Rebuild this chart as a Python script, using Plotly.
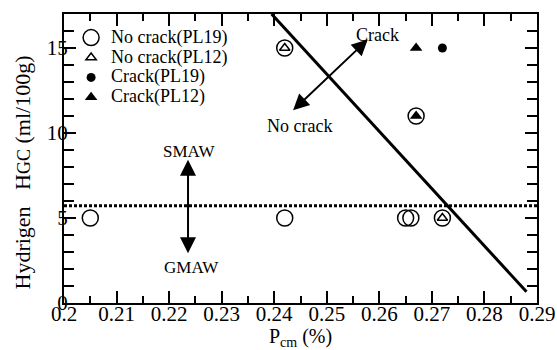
import plotly.graph_objects as go

# Data
nc19_x = [0.205, 0.242, 0.242, 0.265, 0.266, 0.267, 0.272]
nc19_y = [5, 15, 5, 5, 5, 11, 5]
nc12_x = [0.242, 0.272]
nc12_y = [15, 5]
c19_x = [0.272]
c19_y = [15]
c12_x = [0.267, 0.267]
c12_y = [15, 11]

crit_x = [0.2395, 0.288]
crit_y = [17.0, 0.66]
h_level = 5.72

x_ticks = [0.2, 0.21, 0.22, 0.23, 0.24, 0.25, 0.26, 0.27, 0.28, 0.29]
x_tick_text = ["0.2", "0.21", "0.22", "0.23", "0.24", "0.25", "0.26", "0.27", "0.28", "0.29"]
y_ticks = [0, 5, 10, 15]

FONT = "Liberation Serif, Times New Roman, serif"


def legname(s):
    return "<span style='font-size:18px'>" + s + "</span>"


fig = go.Figure()

fig.add_trace(go.Scatter(x=crit_x, y=crit_y, mode="lines",
                         line=dict(color="black", width=3), showlegend=False))
fig.add_trace(go.Scatter(x=[0.2, 0.29], y=[h_level, h_level], mode="lines",
                         line=dict(color="black", width=3, dash="3px,2px"), showlegend=False))

fig.add_trace(go.Scatter(x=nc19_x, y=nc19_y, mode="markers", name=legname("No crack(PL19)"),
                         marker=dict(symbol="circle-open", size=16, color="black",
                                     line=dict(width=1.5, color="black"))))
fig.add_trace(go.Scatter(x=nc12_x, y=nc12_y, mode="markers", name=legname("No crack(PL12)"),
                         marker=dict(symbol="triangle-up-open", size=9, color="black",
                                     line=dict(width=1.5, color="black"))))
fig.add_trace(go.Scatter(x=c19_x, y=c19_y, mode="markers", name=legname("Crack(PL19)"),
                         marker=dict(symbol="circle", size=9, color="black")))
fig.add_trace(go.Scatter(x=c12_x, y=c12_y, mode="markers", name=legname("Crack(PL12)"),
                         marker=dict(symbol="triangle-up", size=11, color="black")))

ytitle = "Hydrigen\u00a0\u00a0\u00a0H<span style='font-size:18px'>GC</span> (ml/100g)"

annotations = [
    dict(x=0.2578, y=15.5, ax=0.2433, ay=11.25, axref="x", ayref="y", xref="x", yref="y",
         text="", showarrow=True, arrowhead=2, startarrowhead=2, arrowside="end+start",
         arrowwidth=2, arrowsize=1.6, startarrowsize=1.6, arrowcolor="black"),
    dict(x=0.2236, y=8.43, ax=0.2236, ay=2.84, axref="x", ayref="y", xref="x", yref="y",
         text="", showarrow=True, arrowhead=2, startarrowhead=2, arrowside="end+start",
         arrowwidth=2, arrowsize=1.6, startarrowsize=1.6, arrowcolor="black"),
    dict(x=0.2597, y=15.75, xref="x", yref="y", text="Crack", showarrow=False,
         font=dict(family=FONT, size=18, color="black")),
    dict(x=0.2449, y=10.4, xref="x", yref="y", text="No crack", showarrow=False,
         font=dict(family=FONT, size=18, color="black")),
    dict(x=0.2237, y=8.9, xref="x", yref="y", text="SMAW", showarrow=False,
         font=dict(family=FONT, size=17, color="black")),
    dict(x=0.2242, y=2.1, xref="x", yref="y", text="GMAW", showarrow=False,
         font=dict(family=FONT, size=17, color="black")),
    dict(x=-0.0877, y=0.45, xref="paper", yref="paper", text=ytitle, showarrow=False,
         textangle=-90, xanchor="center", yanchor="middle",
         font=dict(family=FONT, size=22, color="black")),
]

fig.update_layout(
    width=557, height=350,
    margin=dict(l=64, r=20, t=14, b=47, autoexpand=False),
    plot_bgcolor="white", paper_bgcolor="white",
    font=dict(family=FONT, size=21, color="black"),
    annotations=annotations,
    legend=dict(x=0.015, y=0.97, xanchor="left", yanchor="top",
                bgcolor="rgba(0,0,0,0)", font=dict(family=FONT, size=13),
                tracegroupgap=0, itemwidth=30),
    xaxis=dict(range=[0.2, 0.29], tickvals=x_ticks, ticktext=x_tick_text,
               tickfont=dict(family=FONT, size=21, color="black"),
               ticks="inside", ticklen=12, tickwidth=2, tickcolor="black",
               showline=True, linecolor="black", linewidth=2, mirror="ticks",
               showgrid=False, zeroline=False, automargin=False, ticklabelstandoff=-9,
               minor=dict(dtick=0.005, ticks="inside", ticklen=7, tickwidth=2, tickcolor="black"),
               title=dict(text="P<sub>cm</sub> (%)", font=dict(family=FONT, size=20), standoff=10)),
    yaxis=dict(range=[0, 17], tickvals=y_ticks,
               tickfont=dict(family=FONT, size=21, color="black"),
               ticks="inside", ticklen=12, tickwidth=2, tickcolor="black",
               showline=True, linecolor="black", linewidth=2, mirror="ticks",
               showgrid=False, zeroline=False, automargin=False, ticklabelstandoff=-10,
               minor=dict(dtick=1, ticks="inside", ticklen=10, tickwidth=2, tickcolor="black")),
)

fig.write_html("out.html", config={"displayModeBar": False},
               post_script="document.body.style.margin='0px';")
